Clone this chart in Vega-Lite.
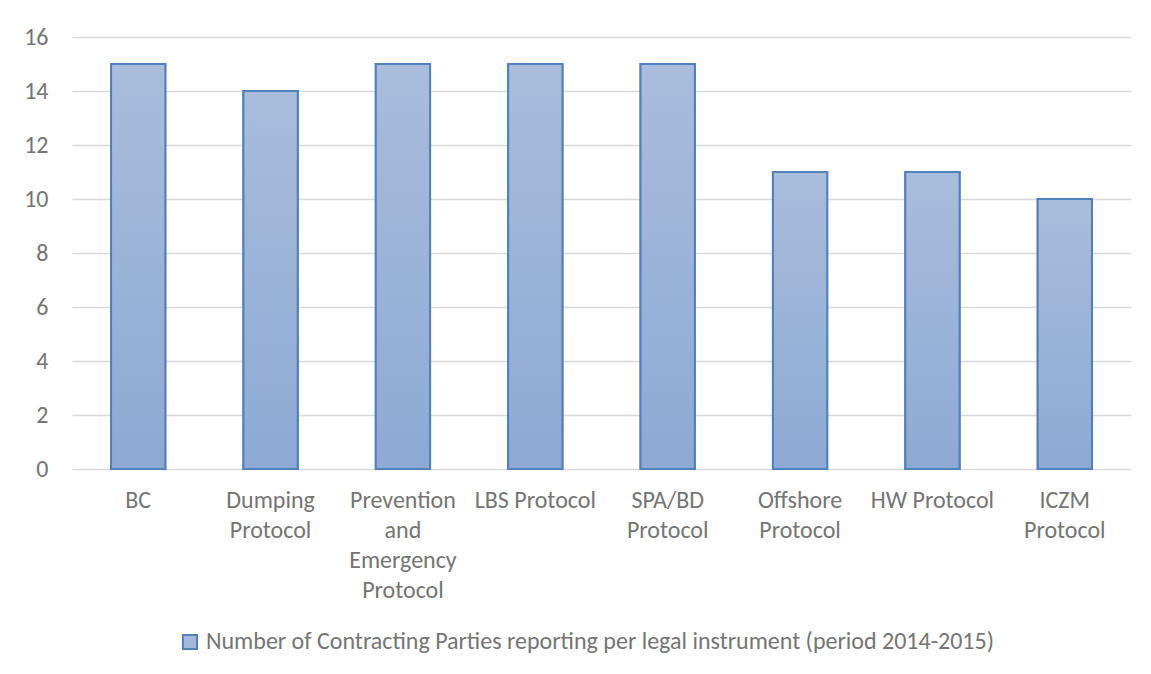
{
  "$schema": "https://vega.github.io/schema/vega-lite/v6.json",
  "width": 1059,
  "height": 432,
  "autosize": {"type": "none"},
  "padding": {"left": 72, "top": 37, "right": 20, "bottom": 205},
  "background": "white",
  "config": {
    "font": "Calibri, Carlito, Lato, sans-serif",
    "view": {"stroke": null},
    "axis": {"labelFont": "Calibri, Carlito, Lato, sans-serif", "labelColor": "#757575", "labelFontSize": 24},
    "legend": {"labelFont": "Calibri, Carlito, Lato, sans-serif", "labelColor": "#757575", "labelFontSize": 24}
  },
  "data": {
    "values": [
      {"instrument": "BC", "parties": 15, "series": "Number of Contracting Parties reporting per legal instrument (period 2014-2015)"},
      {"instrument": "Dumping Protocol", "parties": 14, "series": "Number of Contracting Parties reporting per legal instrument (period 2014-2015)"},
      {"instrument": "Prevention and Emergency Protocol", "parties": 15, "series": "Number of Contracting Parties reporting per legal instrument (period 2014-2015)"},
      {"instrument": "LBS Protocol", "parties": 15, "series": "Number of Contracting Parties reporting per legal instrument (period 2014-2015)"},
      {"instrument": "SPA/BD Protocol", "parties": 15, "series": "Number of Contracting Parties reporting per legal instrument (period 2014-2015)"},
      {"instrument": "Offshore Protocol", "parties": 11, "series": "Number of Contracting Parties reporting per legal instrument (period 2014-2015)"},
      {"instrument": "HW Protocol", "parties": 11, "series": "Number of Contracting Parties reporting per legal instrument (period 2014-2015)"},
      {"instrument": "ICZM Protocol", "parties": 10, "series": "Number of Contracting Parties reporting per legal instrument (period 2014-2015)"}
    ]
  },
  "encoding": {
    "x": {
      "field": "instrument",
      "type": "nominal",
      "sort": null,
      "scale": {"paddingInner": 0.59, "paddingOuter": 0.295},
      "axis": {
        "title": null,
        "labelAngle": 0,
        "ticks": false,
        "domain": false,
        "labelPadding": 19,
        "labelLineHeight": 30,
        "labelBaseline": "top",
        "labelExpr": "indexof(['LBS Protocol','HW Protocol'], datum.value) >= 0 ? datum.value : split(datum.value, ' ')"
      }
    },
    "y": {
      "field": "parties",
      "type": "quantitative",
      "scale": {"domain": [0, 16]},
      "axis": {
        "title": null,
        "values": [0, 2, 4, 6, 8, 10, 12, 14, 16],
        "ticks": false,
        "domain": false,
        "labelPadding": 24,
        "gridColor": "#d9d9d9",
        "gridWidth": 1.5
      }
    }
  },
  "layer": [
    {
      "mark": {"type": "bar", "stroke": "#4F81BD", "strokeWidth": 2},
      "encoding": {
        "fill": {
          "field": "series",
          "type": "nominal",
          "scale": {"range": ["#A3B8DA"]},
          "legend": {
            "title": null,
            "orient": "none",
            "legendX": 106,
            "legendY": 593,
            "symbolType": "square",
            "symbolSize": 200,
            "symbolStrokeColor": "#4F81BD",
            "symbolStrokeWidth": 2,
            "symbolOpacity": 1,
            "labelOffset": 4,
            "labelLimit": 1100
          }
        }
      }
    },
    {
      "mark": {
        "type": "bar",
        "stroke": "#4F81BD",
        "strokeWidth": 2,
        "fill": {
          "gradient": "linear",
          "x1": 0, "y1": 0, "x2": 0, "y2": 1,
          "stops": [
            {"offset": 0, "color": "#A9BDDC"},
            {"offset": 1, "color": "#8DA9D4"}
          ]
        }
      }
    }
  ]
}
